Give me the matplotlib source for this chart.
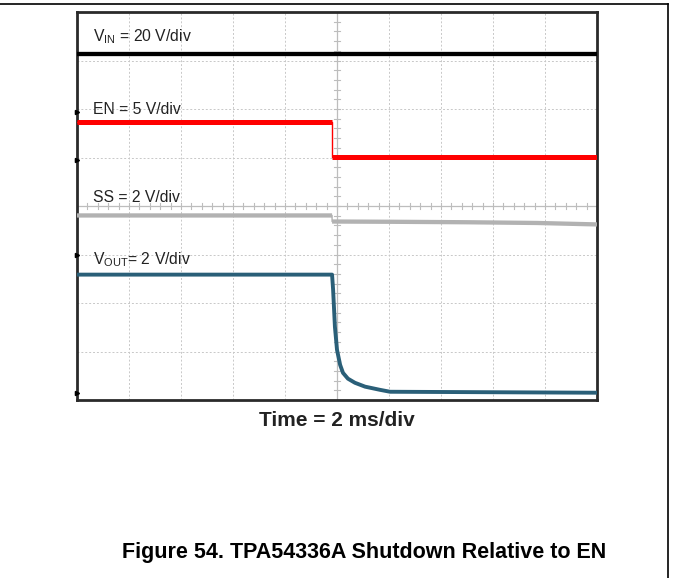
import matplotlib.pyplot as plt
import numpy as np

plt.rcParams['font.family'] = ['Liberation Sans', 'DejaVu Sans']

# time base: 2 ms/div, 10 divisions
ms_per_div = 2.0
n_xdiv = 10
n_ydiv = 8
t_step = 9.81  # ms, EN falling edge

# channel settings (scale in V/div, ground position in divisions from the bottom)
vin_scale, vin_gnd = 20.0, 5.94
en_scale, en_gnd = 5.0, 4.95
ss_scale, ss_gnd = 2.0, 3.0
vout_scale, vout_gnd = 2.0, 0.15

# traces (time in ms, volts)
vin_t = [0, 20]
vin_v = [24.0, 24.0]

en_t = [0, t_step, t_step, 20]
en_v = [3.9, 3.9, 0.3, 0.3]

ss_t = [0, t_step, t_step, 12.0, 15.0, 17.7, 20]
ss_v = [1.61, 1.61, 1.36, 1.35, 1.33, 1.30, 1.24]

vout_t = [0, 9.81, 9.85, 9.92, 10.0, 10.12, 10.23, 10.42, 10.69, 11.08, 11.65, 12.04, 20]
vout_v = [4.87, 4.87, 4.25, 2.72, 1.77, 1.15, 0.82, 0.58, 0.41, 0.25, 0.12, 0.04, 0.0]

fig = plt.figure(figsize=(6.73, 5.78), dpi=100)
ax = fig.add_axes([77/673, 1-400/578, 520/673, 388/578])

def todiv(v, scale, gnd):
    return np.array(v) / scale + gnd

def split_edges(t, y):
    # break the trace at vertical edges so the flat parts can be drawn thick
    t = np.array(t, dtype=float)
    y = np.array(y, dtype=float)
    tt, yy = [t[0]], [y[0]]
    for i in range(1, len(t)):
        if t[i] == t[i - 1]:
            tt.append(np.nan)
            yy.append(np.nan)
        tt.append(t[i])
        yy.append(y[i])
    return tt, yy

ax.set_xlim(0, n_xdiv * ms_per_div)
ax.set_ylim(0, n_ydiv)

# graticule
for i in range(1, n_xdiv):
    ax.axvline(i * ms_per_div, color='#c8c8c8', lw=0.7, ls=(0, (2, 2)), zorder=1)
for j in range(1, n_ydiv):
    ax.axhline(j, color='#c8c8c8', lw=0.7, ls=(0, (2, 2)), zorder=1)
xc = n_xdiv * ms_per_div / 2
yc = n_ydiv / 2
ax.axvline(xc, color='#bdbdbd', lw=0.9, zorder=1)
ax.axhline(yc, color='#bdbdbd', lw=0.9, zorder=1)
for x in np.arange(0, n_xdiv * ms_per_div, ms_per_div / 5):
    ax.plot([x, x], [yc - 0.06, yc + 0.06], color='#bdbdbd', lw=0.8, zorder=1)
for y in np.arange(0, n_ydiv, 0.2):
    ax.plot([xc - 0.12, xc + 0.12], [y, y], color='#bdbdbd', lw=0.8, zorder=1)

# traces
ax.plot(vin_t, todiv(vin_v, vin_scale, vin_gnd), color='black', lw=3.1, zorder=3)

en_d = todiv(en_v, en_scale, en_gnd)
ax.plot(en_t, en_d, color='#ff0000', lw=1.0, zorder=3)
ax.plot(*split_edges(en_t, en_d), color='#ff0000', lw=3.6, solid_capstyle='butt', zorder=3)

ss_d = todiv(ss_v, ss_scale, ss_gnd)
ax.plot(ss_t, ss_d, color='#b2b2b2', lw=1.0, zorder=3)
ax.plot(*split_edges(ss_t, ss_d), color='#b2b2b2', lw=3.1, solid_capstyle='butt', zorder=3)

ax.plot(vout_t, todiv(vout_v, vout_scale, vout_gnd), color='#2a5f78', lw=2.8, zorder=3)

# ground markers on the left edge
for g in [vin_gnd, en_gnd, ss_gnd, vout_gnd]:
    ax.plot([0], [g], marker='>', ms=3, color='black', clip_on=False, zorder=4)

# channel labels
lab_kw = dict(fontsize=11.3, color='#222222', va='baseline', zorder=5)
ax.text(0.62, 7.40, r'V$_{\mathregular{IN}}$ = 20 V/div', **lab_kw)
ax.text(0.62, 5.90, 'EN = 5 V/div', **lab_kw)
ax.text(0.62, 4.08, 'SS = 2 V/div', **lab_kw)
ax.text(0.62, 2.80, r'V$_{\mathregular{OUT}}$= 2 V/div', **lab_kw)

ax.set_xticks([])
ax.set_yticks([])
for s in ax.spines.values():
    s.set_color('#2a2a2a')
    s.set_linewidth(2.0)

fig.text(337/673, 1-426/578, 'Time = 2 ms/div', fontsize=15, fontweight='bold',
         color='#222222', ha='center', va='baseline')

fig.text(122/673, 1-558/578, 'Figure 54. TPA54336A Shutdown Relative to EN',
         fontsize=15.5, fontweight='bold', va='baseline', ha='left', color='black')

# page frame (top and right rules)
fig.add_artist(plt.Line2D([0, 668/673], [1-4/578, 1-4/578], color='black', lw=1.2))
fig.add_artist(plt.Line2D([668/673, 668/673], [0, 1-4/578], color='black', lw=1.2))

fig.savefig('out.png', dpi=100)
